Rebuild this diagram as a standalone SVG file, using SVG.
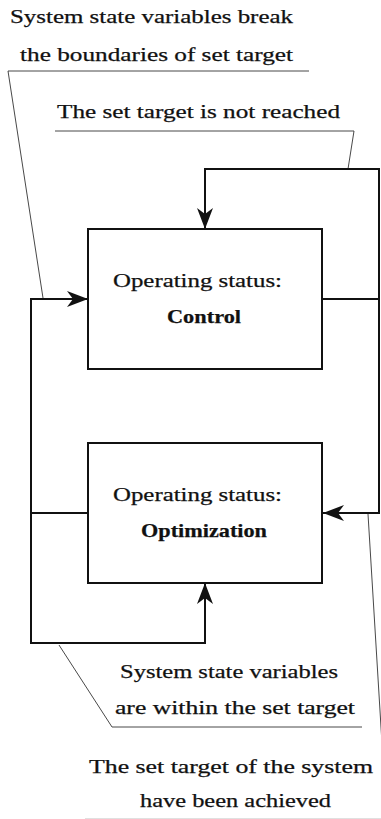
<svg xmlns="http://www.w3.org/2000/svg" width="381" height="819" viewBox="0 0 381 819">
  <style>
    .lbl { font-family: "Liberation Serif", "Times New Roman", serif; font-size: 19px; fill: #111; stroke: #111; stroke-width: 0.25; }
    .bold { font-weight: bold; }
    .box { fill: #fff; stroke: #111; stroke-width: 2; }
    .flow { fill: none; stroke: #111; stroke-width: 2; stroke-linejoin: miter; }
    .lead { fill: none; stroke: #333; stroke-width: 0.9; }
  </style>
  <defs>
    <marker id="stealth" markerUnits="userSpaceOnUse" viewBox="-22 -9 23 18" refX="0" refY="0" markerWidth="23" markerHeight="18" orient="auto">
      <path d="M0,0 L-21,-8 L-15,0 L-21,8 Z" fill="#111"/>
    </marker>
  </defs>

  <rect width="381" height="819" fill="#fff"/>

  <!-- leader lines tying the condition labels to their connectors -->
  <g id="leaders">
    <path class="lead" d="M43,298 L8,71 H309"/>
    <path class="lead" d="M55,131 H354 L348,169"/>
    <path class="lead" d="M59,645 L112,727 H362"/>
    <path class="lead" d="M368,514 L383,760"/>
    <path class="lead" d="M85,818.5 H381" style="stroke:#ddd"/>
  </g>

  <!-- transitions between operating states -->
  <g id="connectors">
    <path class="flow" d="M322,299 H379 V169 H205 V229" marker-end="url(#stealth)"/>
    <path class="flow" d="M379,299 V513 H323" marker-end="url(#stealth)"/>
    <path class="flow" d="M88,513 H31 V643 H205 V583" marker-end="url(#stealth)"/>
    <path class="flow" d="M31,513 V299 H88" marker-end="url(#stealth)"/>
  </g>

  <g id="node-control">
    <rect class="box" x="88" y="229" width="234" height="140"/>
    <text class="lbl" x="113" y="287" textLength="169" lengthAdjust="spacingAndGlyphs">Operating status:</text>
    <text class="lbl bold" x="167" y="323" textLength="74" lengthAdjust="spacingAndGlyphs">Control</text>
  </g>

  <g id="node-optimization">
    <rect class="box" x="88" y="443" width="234" height="140"/>
    <text class="lbl" x="113" y="500.5" textLength="169" lengthAdjust="spacingAndGlyphs">Operating status:</text>
    <text class="lbl bold" x="141" y="536.5" textLength="126" lengthAdjust="spacingAndGlyphs">Optimization</text>
  </g>

  <g id="labels">
    <text class="lbl" x="10" y="23" textLength="283" lengthAdjust="spacingAndGlyphs">System state variables break</text>
    <text class="lbl" x="20" y="61" textLength="273" lengthAdjust="spacingAndGlyphs">the boundaries of set target</text>
    <text class="lbl" x="57" y="118" textLength="283" lengthAdjust="spacingAndGlyphs">The set target is not reached</text>
    <text class="lbl" x="120" y="678" textLength="218" lengthAdjust="spacingAndGlyphs">System state variables</text>
    <text class="lbl" x="115" y="714" textLength="240" lengthAdjust="spacingAndGlyphs">are within the set target</text>
    <text class="lbl" x="89" y="773" textLength="284" lengthAdjust="spacingAndGlyphs">The set target of the system</text>
    <text class="lbl" x="140" y="807" textLength="191" lengthAdjust="spacingAndGlyphs">have been achieved</text>
  </g>
</svg>
